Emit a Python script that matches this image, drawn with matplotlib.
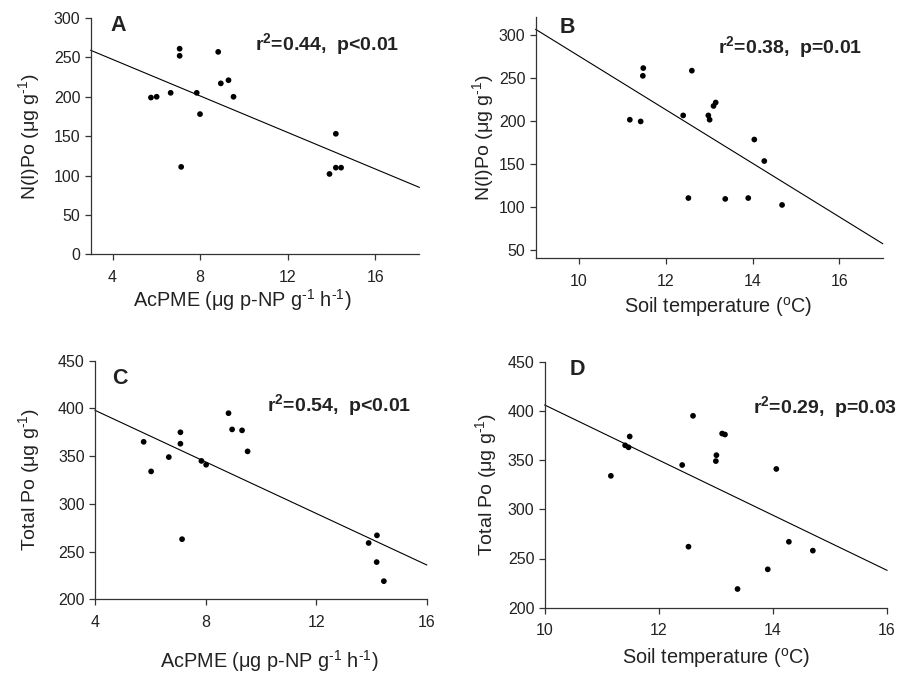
import matplotlib
matplotlib.use("Agg")
import matplotlib.pyplot as plt

plt.rcParams['font.family'] = ['Liberation Sans', 'DejaVu Sans']
plt.rcParams['mathtext.fontset'] = 'custom'
plt.rcParams['mathtext.rm'] = 'Liberation Sans'
plt.rcParams['mathtext.it'] = 'Liberation Sans:italic'
plt.rcParams['mathtext.bf'] = 'Liberation Sans:bold'

# ---- data ----
acpme = [5.75, 6.01, 6.65, 7.06, 7.06, 7.13, 7.84, 7.99, 8.82, 8.94, 9.29, 9.52,
         13.90, 14.19, 14.19, 14.43]
nipo_a = [199, 200, 205, 261, 252, 111, 205, 178, 257, 217, 221, 200,
          102, 153, 110, 110]

acpme_c = [5.76, 6.03, 6.67, 7.09, 7.09, 7.15, 7.85, 8.02, 8.83, 8.96, 9.32, 9.52,
           13.90, 14.20, 14.19, 14.45]
totpo_c = [365, 334, 349, 375, 363, 263, 345, 341, 395, 378, 377, 355,
           259, 267, 239, 219]

soilt_b = [11.17, 11.42, 11.48, 11.47, 12.40, 12.52, 12.60, 12.98, 13.01, 13.10,
           13.15, 13.37, 13.90, 14.04, 14.27, 14.68]
nipo_b = [201, 199, 261, 252, 206, 110, 258, 206, 201, 217, 221, 109, 110, 178,
          153, 102]

soilt_d = [11.16, 11.41, 11.47, 11.49, 12.41, 12.52, 12.60, 13.00, 13.01, 13.11,
           13.16, 13.38, 13.91, 14.06, 14.28, 14.70]
totpo_d = [334, 365, 363, 374, 345, 262, 395, 349, 355, 377, 376, 219, 239, 341,
           267, 258]

# regression line end points (x, y)
fit_a_x, fit_a_y = [3, 18], [259, 85]
fit_b_x, fit_b_y = [9, 17], [306, 57]
fit_c_x, fit_c_y = [4, 16], [398, 236]
fit_d_x, fit_d_y = [10, 16], [406, 238]

stats = ["r$^{\\mathbf{2}}$=0.44,  p<0.01", "r$^{\\mathbf{2}}$=0.38,  p=0.01",
         "r$^{\\mathbf{2}}$=0.54,  p<0.01", "r$^{\\mathbf{2}}$=0.29,  p=0.03"]
letters = ["A", "B", "C", "D"]
xlab_acpme = "AcPME ($\\mathregular{\\mu}$g p-NP g$^{\\text{-1}}$ h$^{\\text{-1}}$)"
xlab_soil = "Soil temperature ($^{\\mathregular{o}}$C)"
ylab_nipo = "N(I)Po ($\\mathregular{\\mu}$g g$^{\\text{-1}}$)"
ylab_tot = "Total Po ($\\mathregular{\\mu}$g g$^{\\text{-1}}$)"

W, H = 911, 675
fig = plt.figure(figsize=(W / 100, H / 100), dpi=100)

def box(l, r, t, b):
    return [l / W, 1 - b / H, (r - l) / W, (b - t) / H]

ink = '#222222'

panels = [
    dict(rect=box(90.7, 419.3, 18, 254.3), x=acpme, y=nipo_a, fx=fit_a_x, fy=fit_a_y,
         xlim=(3, 18), ylim=(0, 300), xt=[4, 8, 12, 16], yt=range(0, 301, 50),
         xl=xlab_acpme, yl=ylab_nipo, lp=(0.059, 0.946), sp=(0.719, 0.865),
         xlc=(0.46, -0.224), ylc=-0.1695),
    dict(rect=box(535.7, 882.7, 17.3, 258.3), x=soilt_b, y=nipo_b, fx=fit_b_x, fy=fit_b_y,
         xlim=(9, 17), ylim=(40, 320), xt=[10, 12, 14, 16], yt=range(50, 301, 50),
         xl=xlab_soil, yl=ylab_nipo, lp=(0.07, 0.934), sp=(0.733, 0.851),
         xlc=(0.525, -0.224), ylc=-0.135),
    dict(rect=box(95, 426.7, 360.7, 599.3), x=acpme_c, y=totpo_c, fx=fit_c_x, fy=fit_c_y,
         xlim=(4, 16), ylim=(200, 450), xt=[4, 8, 12, 16], yt=range(200, 451, 50),
         xl=xlab_acpme, yl=ylab_tot, lp=(0.051, 0.902), sp=(0.735, 0.789),
         xlc=(0.525, -0.287), ylc=-0.181),
    dict(rect=box(544.7, 887, 361.7, 607.7), x=soilt_d, y=totpo_d, fx=fit_d_x, fy=fit_d_y,
         xlim=(10, 16), ylim=(200, 450), xt=[10, 12, 14, 16], yt=range(200, 451, 50),
         xl=xlab_soil, yl=ylab_tot, lp=(0.074, 0.946), sp=(0.82, 0.79),
         xlc=(0.50, -0.226), ylc=-0.153),
]

for i, p in enumerate(panels):
    ax = fig.add_axes(p['rect'])
    ax.plot(p['fx'], p['fy'], color='black', lw=0.8, clip_on=False)
    ax.scatter(p['x'], p['y'], s=17, color='black', edgecolors='none', zorder=3, clip_on=False)
    ax.set_xlim(*p['xlim'])
    ax.set_ylim(*p['ylim'])
    ax.set_xticks(p['xt'])
    ax.set_yticks(list(p['yt']))
    for s in ['top', 'right']:
        ax.spines[s].set_visible(False)
    for s in ['left', 'bottom']:
        ax.spines[s].set_color('#333333')
        ax.spines[s].set_linewidth(0.9)
    ax.tick_params(direction='out', length=4, width=0.9, colors='#333333',
                   labelsize=11.5, labelcolor=ink)
    ax.tick_params(axis='x', pad=7)
    ax.tick_params(axis='y', pad=3.5)
    ax.set_xlabel(p['xl'], fontsize=14.3, color=ink, va='baseline')
    ax.set_ylabel(p['yl'], fontsize=14, color=ink, va='baseline')
    ax.xaxis.set_label_coords(*p['xlc'])
    ax.yaxis.set_label_coords(p['ylc'], 0.5)
    ax.text(p['lp'][0], p['lp'][1], letters[i], transform=ax.transAxes,
            fontsize=15.5, fontweight='bold', ha='left', va='baseline', color=ink)
    ax.text(p['sp'][0], p['sp'][1], stats[i], transform=ax.transAxes,
            fontsize=14, fontweight='bold', ha='center', va='baseline', color=ink)

fig.savefig('out.png', dpi=100)
